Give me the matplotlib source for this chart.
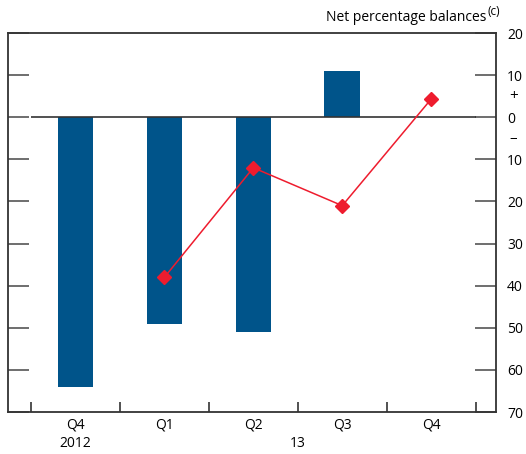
import matplotlib
matplotlib.use('Agg')
import matplotlib.pyplot as plt

plt.rcParams['font.family'] = ['Open Sans', 'DejaVu Sans']

# Data
quarters = ['Q4', 'Q1', 'Q2', 'Q3', 'Q4']
years = ['2012', '13']
bar_values = [-64, -49, -51, 11, None]
line_values = [None, -38, -12, -21, 4.3]
y_ticks = [20, 10, 0, -10, -20, -30, -40, -50, -60, -70]

blue = '#00548A'
red = '#EE1C2E'
dark = '#333333'

fig = plt.figure(figsize=(5.26, 4.54), dpi=100)
ax = fig.add_axes([0.0152, 0.0925, 0.9278, 0.8348])

x = list(range(len(quarters)))
bx = [i for i, v in zip(x, bar_values) if v is not None]
bv = [v for v in bar_values if v is not None]
ax.bar(bx, bv, width=0.4, color=blue, zorder=2)

lx = [i for i, v in zip(x, line_values) if v is not None]
lv = [v for v in line_values if v is not None]
ax.plot(lx, lv, color=red, lw=1.1, marker='D', markersize=7, zorder=4)

# zero line
ax.hlines(0, -0.5, 4.5, color=dark, lw=1.2, zorder=3)

ax.set_xlim(-0.76, 4.73)
ax.set_ylim(-70, 20)

for s in ax.spines.values():
    s.set_color(dark)
    s.set_linewidth(1.3)

# y axis: labels on the right, ticks inside on both sides
ax.set_yticks(y_ticks)
ax.set_yticklabels([str(abs(v)) for v in y_ticks])
ax.tick_params(axis='y', direction='in', length=15, width=1.2, color='#555555',
               left=True, right=True, labelleft=False, labelright=True,
               labelsize=10, pad=8)

# x axis: boundary ticks, long at year ends
bounds = [-0.5, 0.5, 1.5, 2.5, 3.5, 4.5]
ax.set_xticks(bounds)
ax.set_xticklabels([''] * len(bounds))
ax.tick_params(axis='x', direction='in', length=7, width=1.2, color=dark)
ax.set_xticks([0.5, 4.5], minor=True)
ax.tick_params(axis='x', which='minor', direction='in', length=15, width=1.2, color=dark)

xt = ax.get_xaxis_transform()
for i, q in enumerate(quarters):
    ax.text(i, -0.014, q, transform=xt, ha='center', va='top', fontsize=10)
ax.text(0, -0.064, years[0], transform=xt, ha='center', va='top', fontsize=10)
ax.text(2.5, -0.064, years[1], transform=xt, ha='center', va='top', fontsize=10)

# sign markers on right axis
yt = ax.get_yaxis_transform()
ax.text(1.035, 5, '+', transform=yt, ha='center', va='center', fontsize=11)
ax.text(1.035, -5, '\u2013', transform=yt, ha='center', va='center', fontsize=11)

fig.text(0.925, 0.945, 'Net percentage balances', ha='right', va='bottom', fontsize=10)
fig.text(0.926, 0.96, '(c)', ha='left', va='bottom', fontsize=8.5)

fig.savefig('out.png', dpi=100)
